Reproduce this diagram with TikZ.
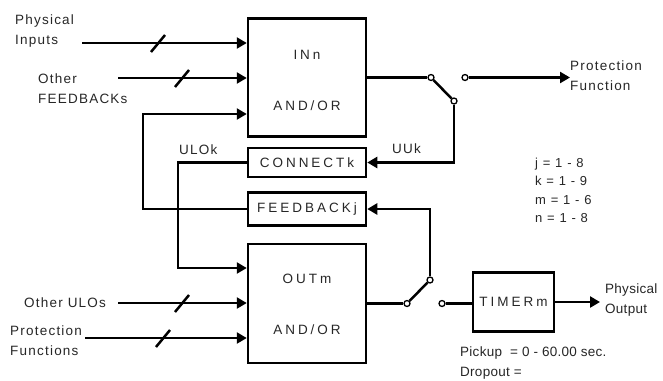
\documentclass[tikz,border=0pt]{standalone}
\usepackage{fontspec}
\setmainfont[LetterSpace=9]{Liberation Sans}
\newfontfamily\boxfont[LetterSpace=22]{Liberation Sans}
\newfontfamily\tightfont[LetterSpace=2]{Liberation Sans}
\usetikzlibrary{arrows.meta}
\begin{document}
\begin{tikzpicture}[x=1pt,y=-1pt,
  wire/.style={line width=2.5pt},
  arr/.style={wire,-{Triangle[length=10pt,width=11pt]}},
  blk/.style={draw,line width=2.5pt,minimum width=118pt,inner sep=0pt},
  contact/.style={circle,draw,line width=1.3pt,fill=white,minimum size=6pt,inner sep=0pt},
  lbl/.style={font=\fontsize{13.5}{20}\selectfont,text=black!85,inner sep=0pt,align=left},
  tlbl/.style={lbl,font=\tightfont\fontsize{13.5}{20}\selectfont},
  blbl/.style={font=\boxfont\fontsize{13.5}{20}\selectfont,text=black!85},
  slash/.style={line width=2.5pt}]
\useasboundingbox (0,0) rectangle (663,380);
% blocks
\node[blk,minimum height=118pt] (inn) at (307,77.5) {};
\node[blk,minimum height=29pt,blbl] (conn) at (307,162.5) {CONNECTk};
\node[blk,minimum height=33pt,blbl] (fb) at (307,209) {FEEDBACKj};
\node[blk,minimum height=119pt] (outm) at (307,303.5) {};
\node[draw,line width=2.5pt,minimum width=81pt,minimum height=59pt,inner sep=0pt,blbl] (tmr) at (513.5,302) {TIMERm};
\node[blbl,inner sep=0pt] (innt) at (307,55) {INn};
\node[blbl,inner sep=0pt] (inna) at (307,106) {AND/OR};
\node[blbl,inner sep=0pt] (outt) at (307,279) {OUTm};
\node[blbl,inner sep=0pt] (outa) at (307,330) {AND/OR};
% contacts
\node[contact] (s1a) at (431,77.5) {};
\node[contact] (s1b) at (465,77.5) {};
\node[contact] (s1c) at (454,101) {};
\node[contact] (s2a) at (407,303.5) {};
\node[contact] (s2b) at (442,303.5) {};
\node[contact] (s2c) at (430,280) {};
% free ends
\coordinate (pin) at (82,43);
\coordinate (ofb) at (118,78);
\coordinate (oulo) at (118,303);
\coordinate (pfn) at (85,338);
\coordinate (pfo) at (570,77.5);
\coordinate (pout) at (600,302);
% inputs to INn
\draw[arr] (pin) -- (inn.west |- pin);
\draw[arr] (ofb) -- (inn.west |- ofb);
\draw[arr] (fb.west) -- (143,209) -- (143,114) -- (inn.west |- 0,114);
% inputs to OUTm
\draw[arr] (conn.west) -- (178,162.5) -- (178,268) -- (outm.west |- 0,268);
\draw[arr] (oulo) -- (outm.west |- oulo);
\draw[arr] (pfn) -- (outm.west |- pfn);
% slashes
\draw[slash] (151,52) -- (165,35);
\draw[slash] (175,87) -- (189,70);
\draw[slash] (175,312) -- (189,295);
\draw[slash] (156,347) -- (170,330);
% upper switch
\draw[wire] (inn.east) -- (s1a);
\draw[wire] (s1a) -- (s1c);
\draw[arr] (s1c) -- (454,162.5) -- (conn.east);
\draw[arr] (s1b) -- (pfo);
% lower switch
\draw[wire] (outm.east) -- (s2a);
\draw[wire] (s2a) -- (s2c);
\draw[arr] (s2c) -- (430,209) -- (fb.east);
\draw[wire] (s2b) -- (tmr.west |- s2b);
\draw[arr] (tmr.east |- pout) -- (pout);
% labels
\node[lbl,anchor=west] (l1) at (15,31) {Physical\\Inputs};
\node[lbl,anchor=west] (l2) at (38,88.5) {Other\\FEEDBACKs};
\node[lbl,anchor=west] (l3) at (179,150) {ULOk};
\node[lbl,anchor=west] (l4) at (392,149) {UUk};
\node[lbl,anchor=west] (l5) at (570,76) {Protection\\Function};
\node[lbl,anchor=west,font=\fontsize{13}{18.5}\selectfont] (l6) at (535,190.5) {j = 1 - 8\\k = 1 - 9\\m = 1 - 6\\n = 1 - 8};
\node[lbl,anchor=west] (l7) at (24,303) {Other ULOs};
\node[lbl,anchor=west] (l8) at (10,341) {Protection\\Functions};
\node[tlbl,anchor=west] (l9) at (605,300) {Physical\\Output};
\node[tlbl,anchor=west] (l10) at (460,363) {Pickup\ \ = 0 - 60.00 sec.\\Dropout =};
\end{tikzpicture}
\end{document}
